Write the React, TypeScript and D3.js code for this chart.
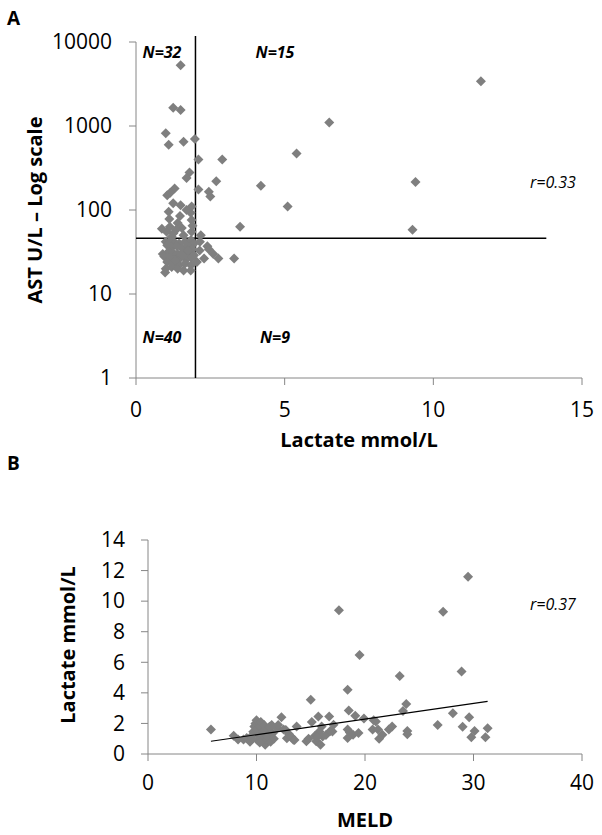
import React from "react";
import * as d3 from "d3";

// Panel A: lactate (mmol/L) vs AST (U/L, log)
const astLactate: number[] = [
  // upper-left (N=32)
  1.5, 1.25, 1.5, 1.0, 1.1, 1.6, 1.98, 1.8, 1.7, 1.3, 1.15, 1.05, 1.25, 1.5, 1.87, 1.1,
  1.48, 1.84, 1.12, 1.87, 1.14, 1.54, 1.03, 1.26, 1.87, 1.7, 1.4, 1.6, 1.2, 1.9, 1.35, 0.87,
  // upper-right (N=15)
  11.6, 6.5, 5.4, 4.2, 5.1, 9.4, 9.3, 3.5, 2.1, 2.9, 2.7, 2.1, 2.45, 2.5, 2.18,
  // lower-left (N=40)
  1.0, 1.15, 1.3, 1.45, 1.65, 1.85, 1.95, 1.05, 1.2, 1.38, 1.55, 1.75, 1.9, 0.9, 1.1, 1.25,
  1.4, 1.6, 1.8, 1.95, 0.95, 1.15, 1.35, 1.5, 1.7, 1.88, 1.05, 1.25, 1.45, 1.65, 1.85, 1.0,
  1.2, 1.4, 1.6, 1.84, 0.98, 1.3, 1.55, 1.75,
  // lower-right (N=9)
  2.15, 2.4, 2.45, 2.14, 2.29, 2.77, 3.3, 2.6, 2.05,
];
const astValues: number[] = [
  5300, 1650, 1550, 820, 600, 650, 700, 280, 240, 180, 160, 150, 120, 114, 110, 95,
  85, 93, 78, 76, 63, 61, 55, 53, 55, 100, 70, 50, 48, 65, 58, 60,
  3400, 1100, 470, 195, 110, 215, 58, 63, 400, 400, 220, 175, 165, 145, 50,
  42, 43, 41, 40, 42, 44, 40, 38, 36, 37, 35, 37, 34, 30, 32, 31,
  30, 32, 30, 29, 28, 27, 26, 27, 26, 27, 24, 23, 22, 23, 22, 20,
  21, 20, 19, 19, 18, 25, 29, 33,
  42, 37, 34, 33, 26.5, 26.5, 26.5, 30, 24,
];
const astCutoff = 46;
const lactateCutoff = 2;
const astHLineEnd = 13.8;
const quadrantLabels = ["N=32", "N=15", "N=40", "N=9"];
const corrA = "r=0.33";
const astTicks = [1, 10, 100, 1000, 10000];
const lactateTicksA = [0, 5, 10, 15];

// Panel B: MELD vs lactate
const meldValues: number[] = [
  5.8, 7.9, 8.3, 8.8, 9.1, 9.4, 9.5, 9.7, 9.8, 9.9, 10.0, 10.0, 10.1, 10.2, 10.3, 10.4,
  10.5, 10.6, 10.7, 10.8, 10.9, 11.0, 11.1, 11.2, 11.3, 11.5, 11.6, 11.9, 12.0, 12.3, 12.5, 12.7,
  12.8, 13.0, 13.2, 13.4, 13.5, 13.7, 14.6, 14.8, 15.0, 15.1, 15.4, 15.5, 15.7, 15.8, 15.9, 16.1,
  16.4, 16.7, 16.8, 17.0, 17.1, 17.6, 18.4, 18.5, 18.4, 18.4, 18.9, 19.1, 19.5, 19.4, 19.9, 20.7,
  21.0, 21.3, 21.6, 22.2, 22.5, 23.2, 23.5, 23.8, 23.9, 23.9, 26.7, 27.2, 28.1, 28.9, 29.0, 29.6,
  29.5, 29.8, 30.1, 31.1, 31.3, 9.6, 10.3, 11.4, 16.0, 15.6, 20.8, 18.6, 21.2,
];
const lactateValuesB: number[] = [
  1.6, 1.2, 0.95, 0.95, 1.05, 0.8, 1.15, 1.45, 1.8, 2.0, 2.2, 1.6, 0.9, 1.25, 1.8, 2.1,
  1.0, 1.45, 1.9, 0.6, 0.92, 1.2, 1.6, 1.78, 0.8, 1.35, 1.0, 1.68, 1.9, 2.4, 1.6, 1.57,
  1.03, 1.3, 1.13, 0.94, 0.92, 1.8, 0.83, 1.0, 3.55, 2.1, 1.2, 0.83, 2.46, 1.48, 0.6, 1.15,
  1.24, 2.46, 1.5, 1.48, 1.92, 9.4, 4.2, 2.85, 1.6, 1.05, 1.26, 2.5, 6.47, 1.37, 2.33, 1.6,
  2.13, 1.0, 1.26, 1.6, 1.8, 5.1, 2.81, 3.27, 1.5, 1.3, 1.9, 9.3, 2.66, 5.4, 1.79, 2.4,
  11.6, 1.09, 1.5, 1.09, 1.68, 1.0, 0.75, 1.9, 1.8, 1.1, 2.2, 1.4, 1.6,
];
const trendIntercept = 0.24;
const trendSlope = 0.1024;
const corrB = "r=0.37";
const meldTicks = [0, 10, 20, 30, 40];
const lactateTicksB = [0, 2, 4, 6, 8, 10, 12, 14];

const FONT = "'Open Sans', 'DejaVu Sans', sans-serif";
const AXIS = "#868686";
const MARK = "#7f7f7f";

export default function App() {
  // Panel A scales
  const xA = d3.scaleLinear().domain([0, 15]).range([136, 582]);
  const yA = d3.scaleLog().domain([1, 10000]).range([378, 42]);
  // Panel B scales
  const xB = d3.scaleLinear().domain([0, 40]).range([148, 582]);
  const yB = d3.scaleLinear().domain([0, 14]).range([754, 540]);

  const diamond = d3.symbol().type(d3.symbolSquare).size(50)()!;

  const meldExtent = d3.extent(meldValues) as [number, number];

  return (
    <svg
      width={602}
      height={835}
      style={{ position: "absolute", left: 0, top: 0, background: "#fff" }}
      fontFamily={FONT}
    >
      <rect width={602} height={835} fill="#fff" />
      {/* ---------- Panel A ---------- */}
      <text x={7} y={25} fontSize={19} fontWeight="bold">A</text>

      {/* axes */}
      <line x1={xA(0)} x2={xA(0)} y1={yA(10000)} y2={yA(1)} stroke={AXIS} />
      <line x1={xA(0)} x2={xA(15)} y1={yA(1)} y2={yA(1)} stroke={AXIS} />
      {astTicks.map((t) => (
        <g key={"ya" + t}>
          <line x1={xA(0) - 7} x2={xA(0)} y1={yA(t)} y2={yA(t)} stroke={AXIS} />
          <text x={112} y={yA(t)} dy="0.35em" textAnchor="end" fontSize={21}>{t}</text>
        </g>
      ))}
      {lactateTicksA.map((t) => (
        <g key={"xa" + t}>
          <line x1={xA(t)} x2={xA(t)} y1={yA(1)} y2={yA(1) + 7} stroke={AXIS} />
          <text x={xA(t)} y={417} textAnchor="middle" fontSize={21}>{t}</text>
        </g>
      ))}

      {/* reference lines */}
      <line x1={xA(lactateCutoff)} x2={xA(lactateCutoff)} y1={36} y2={yA(1)} stroke="#000" strokeWidth={1.5} />
      <line x1={xA(0)} x2={xA(astHLineEnd)} y1={yA(astCutoff)} y2={yA(astCutoff)} stroke="#000" strokeWidth={1.5} />

      {/* points */}
      {astLactate.map((x, i) => (
        <path key={"pa" + i} d={diamond} fill={MARK}
          transform={`translate(${xA(x)},${yA(astValues[i])}) rotate(45)`} />
      ))}

      {/* quadrant labels */}
      <text x={162} y={58} textAnchor="middle" fontSize={16} fontWeight="bold" fontStyle="italic">{quadrantLabels[0]}</text>
      <text x={275} y={58} textAnchor="middle" fontSize={16} fontWeight="bold" fontStyle="italic">{quadrantLabels[1]}</text>
      <text x={162} y={343} textAnchor="middle" fontSize={16} fontWeight="bold" fontStyle="italic">{quadrantLabels[2]}</text>
      <text x={275} y={343} textAnchor="middle" fontSize={16} fontWeight="bold" fontStyle="italic">{quadrantLabels[3]}</text>
      <text x={530} y={188} fontSize={16} fontStyle="italic">{corrA}</text>

      {/* titles */}
      <text x={359} y={447} textAnchor="middle" fontSize={20} fontWeight="bold">Lactate mmol/L</text>
      <text transform="translate(42,210) rotate(-90)" textAnchor="middle" fontSize={20} fontWeight="bold">AST U/L – Log scale</text>

      {/* ---------- Panel B ---------- */}
      <text x={7} y={470} fontSize={19} fontWeight="bold">B</text>

      <line x1={xB(0)} x2={xB(0)} y1={yB(14)} y2={yB(0)} stroke={AXIS} />
      <line x1={xB(0)} x2={xB(40)} y1={yB(0)} y2={yB(0)} stroke={AXIS} />
      {lactateTicksB.map((t) => (
        <g key={"yb" + t}>
          <line x1={xB(0) - 7} x2={xB(0)} y1={yB(t)} y2={yB(t)} stroke={AXIS} />
          <text x={125} y={yB(t)} dy="0.35em" textAnchor="end" fontSize={21}>{t}</text>
        </g>
      ))}
      {meldTicks.map((t) => (
        <g key={"xb" + t}>
          <line x1={xB(t)} x2={xB(t)} y1={yB(0)} y2={yB(0) + 7} stroke={AXIS} />
          <text x={xB(t)} y={790} textAnchor="middle" fontSize={21}>{t}</text>
        </g>
      ))}

      {meldValues.map((x, i) => (
        <path key={"pb" + i} d={diamond} fill={MARK}
          transform={`translate(${xB(x)},${yB(lactateValuesB[i])}) rotate(45)`} />
      ))}

      <line
        x1={xB(meldExtent[0])}
        y1={yB(trendIntercept + trendSlope * meldExtent[0])}
        x2={xB(meldExtent[1])}
        y2={yB(trendIntercept + trendSlope * meldExtent[1])}
        stroke="#000" strokeWidth={1.2}
      />

      <text x={530} y={610} fontSize={16} fontStyle="italic">{corrB}</text>

      <text x={365} y={827} textAnchor="middle" fontSize={20} fontWeight="bold">MELD</text>
      <text transform="translate(75,645) rotate(-90)" textAnchor="middle" fontSize={20} fontWeight="bold">Lactate mmol/L</text>
    </svg>
  );
}
